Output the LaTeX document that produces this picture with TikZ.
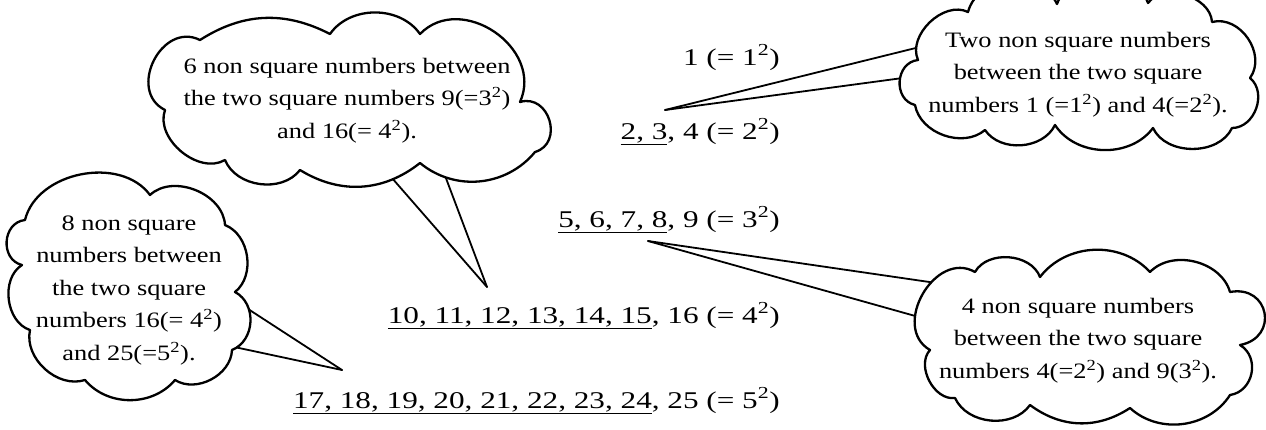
\documentclass[tikz,border=0pt]{standalone}
\usepackage{fontspec}
\setmainfont{Liberation Serif}
\usepackage{graphicx}
\newcommand\ulx[1]{\vtop{\hbox{\raisebox{0pt}[\height][0pt]{#1}}\kern 4.5pt\hrule height 1.5pt}}
\newcommand\sq[1]{\textsuperscript{#1}}
\tikzset{
  num/.style={anchor=base east, inner sep=0pt, font=\fontsize{24}{28}\selectfont},
  ctext/.style={anchor=base, inner sep=0pt, font=\fontsize{22}{32.5}\selectfont},
  cloudline/.style={draw=black, fill=white, line width=2.3pt, line join=round},
  tail/.style={draw=black, line width=1.8pt, line cap=round}
}
\begin{document}
\begin{tikzpicture}[x=1pt,y=-1pt]
\fill[white] (0,0) rectangle (1266,429);
\useasboundingbox (0,0) rectangle (1266,429);

% tails (drawn first, covered by clouds)
\coordinate (tipA) at (487,287);
\coordinate (a1) at (385,170);
\coordinate (a2) at (441,165);
\coordinate (tipB) at (665,110);
\coordinate (b1) at (940,42);
\coordinate (b2) at (925,75);
\coordinate (tipC) at (342,370);
\coordinate (c1) at (225,294);
\coordinate (c2) at (225,345);
\coordinate (tipD) at (648,241);
\coordinate (d1) at (950,285);
\coordinate (d2) at (958,328);
\draw[tail] (tipA) -- (a1);
\draw[tail] (tipA) -- (a2);
\draw[tail] (tipB) -- (b1);
\draw[tail] (tipB) -- (b2);
\draw[tail] (tipC) -- (c1);
\draw[tail] (tipC) -- (c2);
\draw[tail] (tipD) -- (d1);
\draw[tail] (tipD) -- (d2);

% cloud A
\path[cloudline] (165,110)
  foreach \x/\y/\b/\l in {200/40/90/1.4, 330/34/30/1, 420/34/55/1, 520/102/80/1.25,
    535/152/90/1.5, 420/163/45/1, 300/170/35/1, 225/160/60/1, 165/110/70/1}
  { to[bend left=\b, looseness=\l] (\x,\y) } -- cycle;
% cloud B
\path[cloudline] (918,60)
  foreach \x/\y/\b/\l in {968/12/70/1, 1057/4/70/1.1, 1148/3/70/1.1, 1212/22/70/1,
    1250/78/70/1.1, 1232/128/70/1.1, 1153/128/65/1, 1055/125/55/1, 985/130/60/1,
    915/105/60/1, 918/60/80/1.3}
  { to[bend left=\b, looseness=\l] (\x,\y) } -- cycle;
% cloud C
\path[cloudline] (25,220)
  foreach \x/\y/\b/\l in {150/195/65/1, 225/225/65/1, 235/292/60/1, 232/350/65/1.1,
    175/380/60/1, 85/380/50/1, 30/330/60/1, 22/265/65/1, 25/220/80/1.3}
  { to[bend left=\b, looseness=\l] (\x,\y) } -- cycle;
% cloud D
\path[cloudline] (930,350)
  foreach \x/\y/\b/\l in {975/272/90/1.3, 1040/277/65/1, 1150/272/50/1, 1230/292/60/1,
    1240/345/90/1.9, 1230/395/70/1.2, 1130/408/50/1, 1030/405/35/1, 955/398/60/1,
    930/350/70/1}
  { to[bend left=\b, looseness=\l] (\x,\y) } -- cycle;

% number rows
\node[num] (r1) at (780,65) {\scalebox{1.3}[1]{1 (= 1\sq{2})}};
\node[num] (r2) at (780,139) {\scalebox{1.3}[1]{\ulx{2, 3}, 4 (= 2\sq{2})}};
\node[num] (r3) at (780,227) {\scalebox{1.3}[1]{\ulx{5, 6, 7, 8}, 9 (= 3\sq{2})}};
\node[num] (r4) at (780,323) {\scalebox{1.3}[1]{\ulx{10, 11, 12, 13, 14, 15}, 16 (= 4\sq{2})}};
\node[num] (r5) at (780,408) {\scalebox{1.3}[1]{\ulx{17, 18, 19, 20, 21, 22, 23, 24}, 25 (= 5\sq{2})}};

% cloud texts
\node[ctext] (ta) at (347,73) {\scalebox{1.2}[1]{\begin{tabular}[t]{@{}c@{}}6 non square numbers between\\the two square numbers 9(=3\sq{2})\\and 16(= 4\sq{2}).\end{tabular}}};
\node[ctext] (tb) at (1078,47) {\scalebox{1.2}[1]{\begin{tabular}[t]{@{}c@{}}Two non square numbers\\between the two square\\numbers 1 (=1\sq{2}) and 4(=2\sq{2}).\end{tabular}}};
\node[ctext] (tc) at (129,230) {\scalebox{1.2}[1]{\begin{tabular}[t]{@{}c@{}}8 non square\\numbers between\\the two square\\numbers 16(= 4\sq{2})\\and 25(=5\sq{2}).\end{tabular}}};
\node[ctext] (td) at (1078,313) {\scalebox{1.2}[1]{\begin{tabular}[t]{@{}c@{}}4 non square numbers\\between the two square\\numbers 4(=2\sq{2}) and 9(3\sq{2}).\end{tabular}}};
\end{tikzpicture}
\end{document}
